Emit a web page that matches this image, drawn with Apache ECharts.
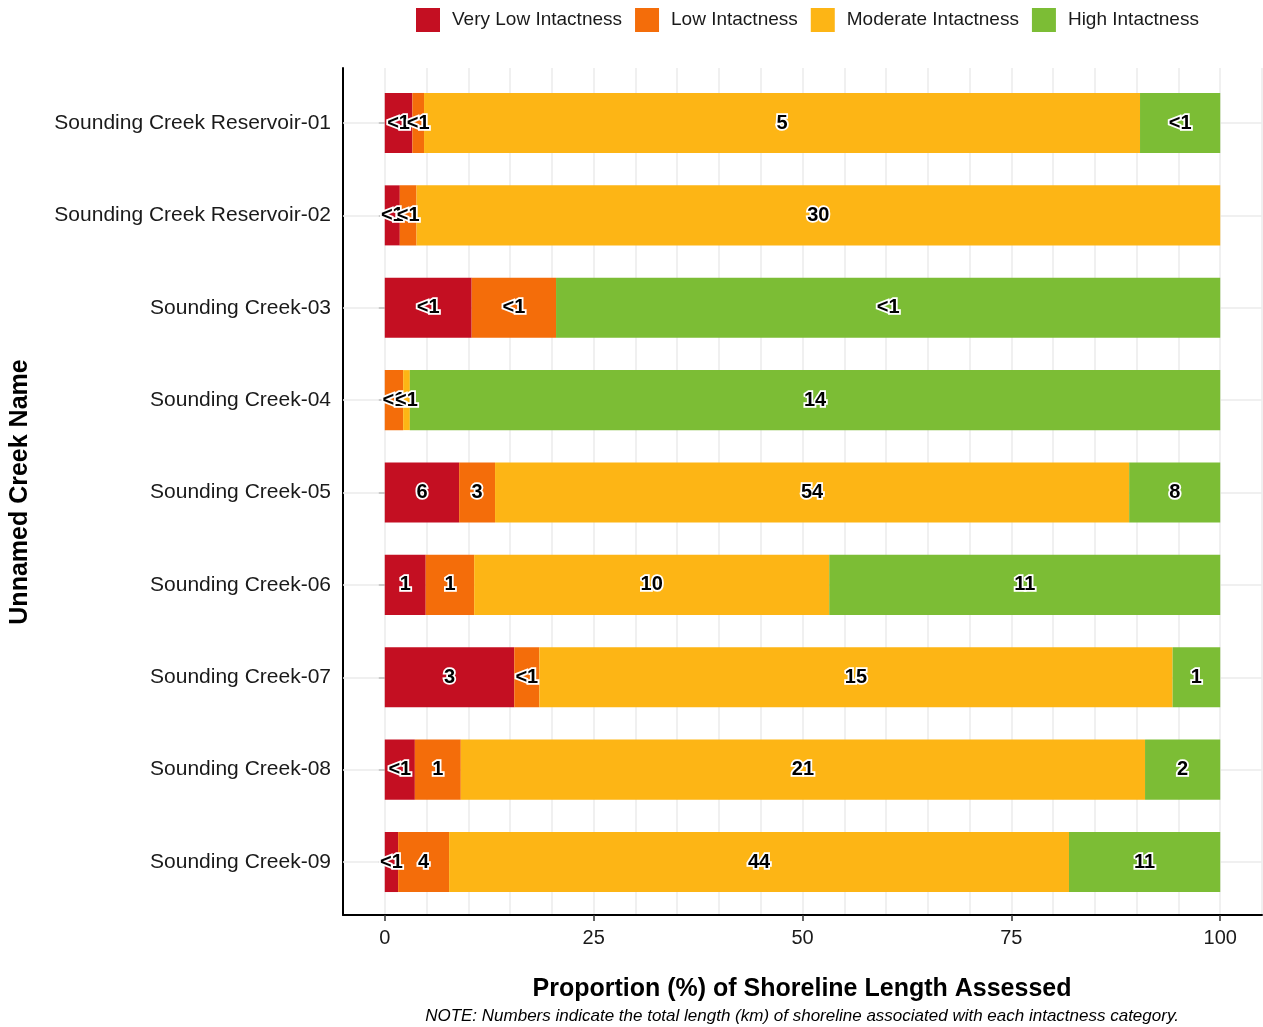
<!DOCTYPE html>
<html><head><meta charset="utf-8">
<script src="https://cdn.jsdelivr.net/npm/echarts@6/dist/echarts.min.js"></script>
<style>html,body{margin:0;padding:0;background:#fff}#c{width:1263px;height:1027px}</style>
</head><body><div id="c"></div>
<script>
const categories = ['Sounding Creek Reservoir-01','Sounding Creek Reservoir-02','Sounding Creek-03','Sounding Creek-04','Sounding Creek-05','Sounding Creek-06','Sounding Creek-07','Sounding Creek-08','Sounding Creek-09'];
const seriesNames = ['Very Low Intactness','Low Intactness','Moderate Intactness','High Intactness'];
const veryLowPct = [3.3, 1.8, 10.4, 0, 8.9, 4.9, 15.5, 3.6, 1.6];
const lowPct = [1.4, 2.0, 10.1, 2.2, 4.3, 5.8, 3.0, 5.5, 6.1];
const moderatePct = [85.7, 96.2, 0, 0.8, 75.9, 42.5, 75.8, 81.9, 74.2];
const highPct = [9.6, 0, 79.5, 97.0, 10.9, 46.8, 5.7, 9.0, 18.1];
const veryLowKm = ['<1','<1','<1','','6','1','3','<1','<1'];
const lowKm = ['<1','<1','<1','<1','3','1','<1','1','4'];
const moderateKm = ['5','30','','<1','54','10','15','21','44'];
const highKm = ['<1','','<1','14','8','11','1','2','11'];
const xTickLabels = [0, 25, 50, 75, 100];

const colors = ['#C40F22','#F46D0A','#FDB515','#7CBD35'];
const pcts = [veryLowPct, lowPct, moderatePct, highPct];
const kms = [veryLowKm, lowKm, moderateKm, highKm];
const FONT = '"Liberation Sans", Arial, Helvetica, sans-serif';

const chart = echarts.init(document.getElementById('c'), null, {renderer: 'canvas'});
const series = seriesNames.map((name, s) => ({
  name: name,
  type: 'bar',
  stack: 'total',
  xAxisIndex: 0,
  yAxisIndex: 0,
  barWidth: '65%',
  itemStyle: {color: colors[s]},
  data: pcts[s],
  label: {
    show: true,
    position: 'inside',
    formatter: p => (p.value > 0 ? kms[s][p.dataIndex] : ''),
    fontFamily: FONT,
    fontWeight: 'bold',
    fontSize: 20,
    color: '#000',
    textBorderColor: '#fff',
    textBorderWidth: 3.5
  },
  emphasis: {disabled: true}
}));

chart.setOption({
  animation: false,
  backgroundColor: '#fff',
  legend: {
    data: seriesNames,
    left: 416, top: 8, padding: 0,
    icon: 'rect',
    itemWidth: 24, itemHeight: 24, itemGap: 13,
    textStyle: {fontFamily: FONT, fontSize: 19, color: '#1a1a1a', padding: [0, 0, 0, 7]}
  },
  grid: [
    {left: 343, right: 1, top: 76.8, bottom: 118.8, containLabel: false},
    {left: 343, right: 1, top: 68, bottom: 112, containLabel: false}
  ],
  xAxis: [
    {gridIndex: 0, type: 'value', min: -5, max: 105, show: false},
    {gridIndex: 1, type: 'value', min: -5, max: 105, interval: 5,
      axisLine: {show: true, onZero: false, lineStyle: {color: '#000', width: 2}},
      axisTick: {show: true, customValues: xTickLabels, length: 6, lineStyle: {color: '#333', width: 1.5}},
      axisLabel: {show: true, customValues: xTickLabels, fontFamily: FONT, fontSize: 20, color: '#1a1a1a', margin: 13},
      splitLine: {show: false}
    },
    {gridIndex: 1, type: 'value', min: -5, max: 105, interval: 5, position: 'bottom',
      axisLine: {show: false}, axisTick: {show: false}, axisLabel: {show: false},
      splitLine: {show: true, lineStyle: {color: '#ebebeb', width: 1.5}}
    }
  ],
  yAxis: [
    {gridIndex: 0, type: 'category', data: categories, inverse: true, position: 'left',
      axisLine: {show: false},
      axisTick: {show: true, alignWithLabel: true, length: 6, lineStyle: {color: '#333', width: 1.5}},
      axisLabel: {fontFamily: FONT, fontSize: 21, color: '#1a1a1a', margin: 12},
      splitLine: {show: false}
    },
    {gridIndex: 0, type: 'category', data: categories, inverse: true, position: 'left',
      axisLine: {show: false},
      axisTick: {show: true, inside: true, alignWithLabel: true, length: 919, lineStyle: {color: '#ebebeb', width: 1.5}},
      axisLabel: {show: false},
      splitLine: {show: false}
    },
    {gridIndex: 1, type: 'value', min: 0, max: 1, position: 'left',
      axisLine: {show: true, onZero: false, lineStyle: {color: '#000', width: 2}},
      axisTick: {show: false}, axisLabel: {show: false}, splitLine: {show: false}
    }
  ],
  graphic: [
    {type: 'text', x: 20, y: 492, rotation: Math.PI / 2,
      style: {text: 'Unnamed Creek Name', font: 'bold 25px ' + FONT, fill: '#000', align: 'center', verticalAlign: 'middle'}},
    {type: 'text', x: 802, y: 989,
      style: {text: 'Proportion (%) of Shoreline Length Assessed', font: 'bold 25px ' + FONT, fill: '#000', align: 'center', verticalAlign: 'middle'}},
    {type: 'text', x: 802, y: 1016,
      style: {text: 'NOTE: Numbers indicate the total length (km) of shoreline associated with each intactness category.', font: 'italic 17px ' + FONT, fill: '#000', align: 'center', verticalAlign: 'middle'}}
  ],
  series: series
});
</script>
</body></html>
